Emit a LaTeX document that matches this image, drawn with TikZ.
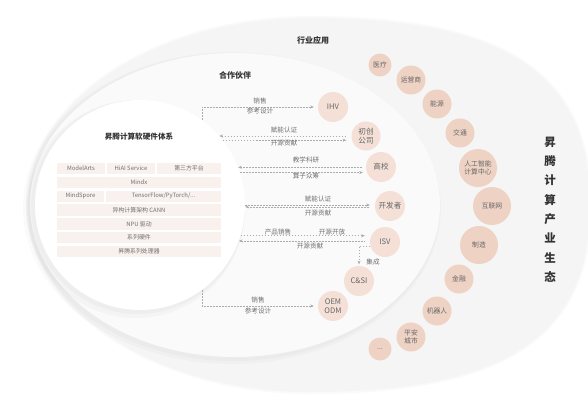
\documentclass[tikz,border=0pt]{standalone}
\usepackage{fontspec}
\setmainfont{Noto Sans CJK SC}
\usetikzlibrary{arrows.meta}
\definecolor{outerbg}{HTML}{F5F5F5}
\definecolor{midbg}{HTML}{FAFAFA}
\definecolor{partc}{HTML}{F4E0D6}
\definecolor{indc}{HTML}{EED2C4}
\definecolor{cellc}{HTML}{F9F1ED}
\definecolor{dashc}{HTML}{ABABAB}
\definecolor{txtc}{HTML}{666666}
\definecolor{lblc}{HTML}{707070}
\definecolor{titc}{HTML}{333333}
\begin{document}
\begin{tikzpicture}[x=1pt,y=-1pt,
  >={Stealth[length=3.6pt,width=3pt]},
  dl/.style={draw=dashc, line width=0.55pt, dash pattern=on 1.6pt off 1.4pt},
  pnode/.style={circle, fill=partc, minimum size=30pt, inner sep=0pt, text=txtc, font=\fontsize{7.6}{8.6}\selectfont, align=center},
  inode/.style={circle, fill=indc, minimum size=29pt, inner sep=0pt, text=txtc, font=\fontsize{6.8}{7.8}\selectfont, align=center},
  lbl/.style={text=lblc, font=\fontsize{6.6}{7.6}\selectfont, inner sep=0pt},
  cell/.style={fill=cellc, text=lblc, font=\fontsize{5.9}{6.5}\selectfont, inner sep=0pt, minimum height=11.3pt},
  ttl/.style={text=titc, font=\fontsize{8}{9}\selectfont\bfseries, inner sep=0pt}
]
\useasboundingbox (0,0) rectangle (588,402);
\fill[white] (0,0) rectangle (588,402);
% outer region
\fill[black,opacity=0.02] (26,205) .. controls (26,101) and (153,16) .. (310,16) .. controls (507,16) and (592,73) .. (592,205) .. controls (592,337) and (507,394) .. (310,394) .. controls (153,394) and (26,309) .. cycle;
\fill[outerbg] (28,205) .. controls (28,102) and (154,18) .. (310,18) .. controls (506,18) and (590,74) .. (590,205) .. controls (590,336) and (506,392) .. (310,392) .. controls (154,392) and (28,308) .. cycle;
% middle region with soft shadow
\fill[black,opacity=0.02] (232,208) ellipse [x radius=209pt, y radius=156pt];
\fill[black,opacity=0.02] (233,207) ellipse [x radius=207pt, y radius=154pt];
\fill[midbg] (235,205) ellipse [x radius=205pt, y radius=152pt];
% inner core with shadow
\fill[black,opacity=0.025] (136,209) circle [radius=109pt];
\fill[black,opacity=0.025] (138,207) circle [radius=107pt];
\node[circle, fill=white, minimum size=210pt, inner sep=0pt] (core) at (140,205) {};

% titles
\node[ttl] (tind) at (313,40) {行业应用};
\node[ttl] (tpart) at (235,75) {合作伙伴};
\node[ttl, font=\fontsize{7.6}{9}\selectfont\bfseries] (tcore) at (139,137) {昇腾计算软硬件体系};
\node[text=titc, font=\fontsize{11.5}{19.3}\selectfont\bfseries, align=center, inner sep=0pt] (tvert) at (550,209.5) {昇\\腾\\计\\算\\产\\业\\生\\态};

% table
\node[cell, minimum width=48pt] (c1a) at (81,168.65) {ModelArts};
\node[cell, minimum width=48pt] (c1b) at (131,168.65) {HiAI Service};
\node[cell, minimum width=64pt] (c1c) at (189,168.65) {第三方平台};
\node[cell, minimum width=164pt] (c2) at (139,182.45) {Mindx};
\node[cell, minimum width=47pt] (c3a) at (80.5,196.25) {MindSpore};
\node[cell, minimum width=115pt] (c3b) at (163.5,196.25) {TensorFlow/PyTorch/...};
\node[cell, minimum width=164pt] (c4) at (139,210.05) {异构计算架构 CANN};
\node[cell, minimum width=164pt] (c5) at (139,223.85) {NPU 驱动};
\node[cell, minimum width=164pt] (c6) at (139,237.65) {系列硬件};
\node[cell, minimum width=164pt] (c7) at (139,251.45) {昇腾系列处理器};

% partner nodes
\node[pnode] (ihv) at (333,107) {IHV};
\node[pnode, minimum size=29pt] (startup) at (366,136) {初创\\公司};
\node[pnode] (univ) at (381,167) {高校};
\node[pnode] (dev) at (390,206) {开发者};
\node[pnode] (isv) at (385,242) {ISV};
\node[pnode] (csi) at (359,281) {C\&SI};
\node[pnode] (oem) at (333,306) {OEM\\ODM};

% industry nodes
\node[inode, minimum size=23pt] (i1) at (380,65) {医疗};
\node[inode] (i2) at (411,80) {运营商};
\node[inode] (i3) at (437,104) {能源};
\node[inode] (i4) at (460,133) {交通};
\node[inode, minimum size=38pt] (i5) at (478,168) {人工智能\\计算中心};
\node[inode, minimum size=38pt] (i6) at (492,206) {互联网};
\node[inode, minimum size=38pt] (i7) at (479,245) {制造};
\node[inode] (i8) at (459,279) {金融};
\node[inode] (i9) at (437,311) {机器人};
\node[inode] (i10) at (411,337) {平安\\城市};
\node[inode, minimum size=23pt] (i11) at (380,349) {...};

% connectors
\draw[dl,->,shorten >=4pt] (core.54) |- (ihv.west);
\node[lbl] (l1a) at (260,100.5) {销售};
\node[lbl] (l1b) at (260,111) {参考设计};

\draw[dl,<-,shorten >=5pt] (core.41.8) -- (core.41.8 -| startup.west);
\draw[dl,->,shorten >=5pt] (core.38.6) -- (core.38.6 -| startup.west);
\node[lbl] (l2a) at (284,130) {赋能认证};
\node[lbl] (l2b) at (284,143.5) {开源贡献};

\draw[dl,<-,shorten >=3pt] (core.21.2) -- (core.21.2 -| univ.west);
\draw[dl,->,shorten >=3pt] (core.18.9) -- (core.18.9 -| univ.west);
\node[lbl] (l3a) at (306,160) {教学科研};
\node[lbl] (l3b) at (306,175.5) {算子众筹};

\draw[dl,->,shorten >=5pt] (core.0.5) -- (core.0.5 -| dev.west);
\draw[dl,<-,shorten >=5pt] (core.-1.6) -- (core.-1.6 -| dev.west);
\node[lbl] (l4a) at (318,199) {赋能认证};
\node[lbl] (l4b) at (318,213) {开源贡献};

\draw[dl,->,shorten >=5pt] (core.-17.7) -- (core.-17.7 -| isv.west);
\draw[dl,<-,shorten >=5pt] (core.-20.1) -- (core.-20.1 -| isv.west);
\node[lbl] (l5a) at (278,232) {产品销售};
\node[lbl] (l5b) at (332,232) {开源开放};
\node[lbl] (l5c) at (310,245.5) {开源贡献};

\draw[dl,->,shorten >=1.5pt] (isv.195) -| (csi.north);
\node[lbl] (l6) at (373,262) {集成};

\draw[dl,->,shorten >=4pt] (core.-54) |- (oem.west);
\node[lbl] (l7a) at (258,299.5) {销售};
\node[lbl] (l7b) at (258,310.5) {参考设计};
\end{tikzpicture}
\end{document}
